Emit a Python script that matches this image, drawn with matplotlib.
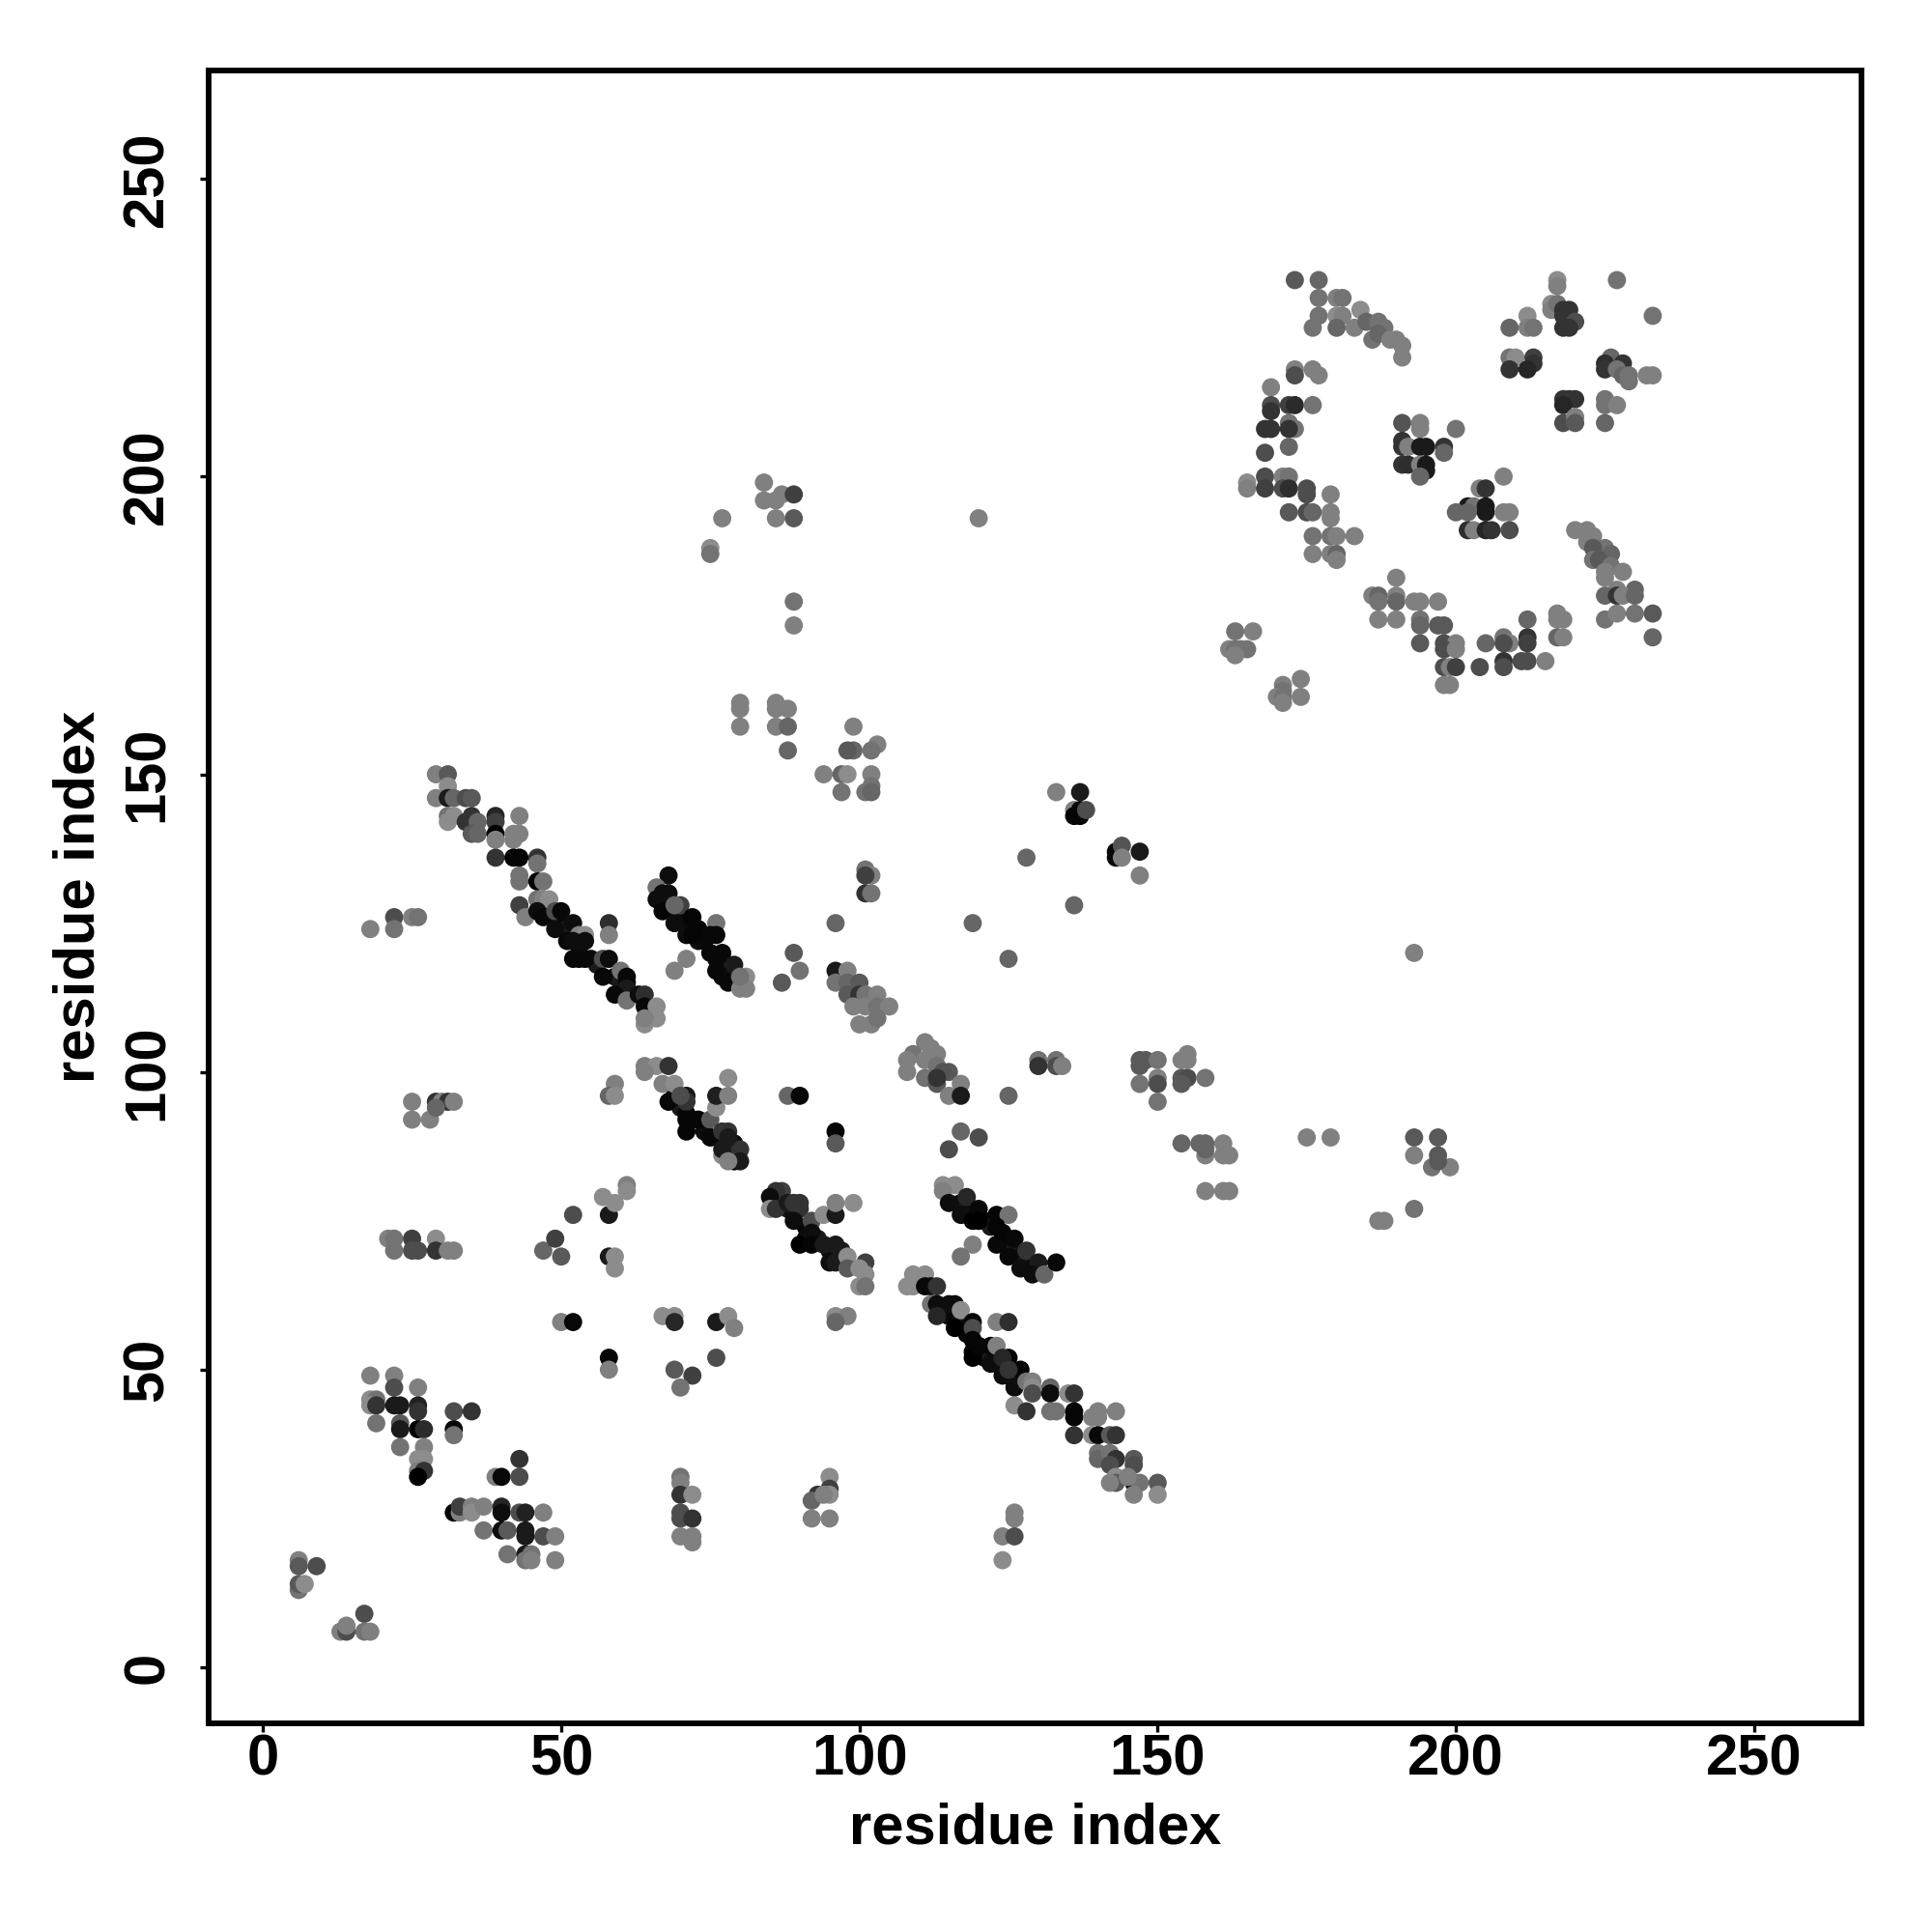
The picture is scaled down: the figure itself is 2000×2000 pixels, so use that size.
import numpy as np
import matplotlib
matplotlib.use("Agg")
import matplotlib.pyplot as plt

plt.rcParams['font.family'] = ['Liberation Sans', 'DejaVu Sans']

# ---- contact points: residue i, residue j, grey level, region by region ----
rib_x = [48,49,50,51,53,55,56,59,60,61,62,60, 68,69,70,71,73,74,77,78,76,77, 69,70,71,72,74,76,79,79,78, 87,88,89,91,91,93,95,97,97, 117,118,119,120,121,122,124,125,126,127,128,129,118, 114,115,116,117,118,118,120,121,122,123,124,125,126,127]
rib_y = [127,126,125,124,121,119,118,116,115,115,113,113, 129,127,126,125,122,122,119,117,119,116, 96,94,93,92,90,89,88,87,87, 79,77,76,74,72,72,70,69,70, 78,77,77,76,75,74,71,71,70,69,68,67,76, 60,59,59,58,57,56,53,52,52,51,50,49,48,48]
rib_g = [.05,.1,.03,.1,.05,.03,.1,.05,.1,.05,.1,.05, .05,.1,.05,.03,.05,.03,.05,.1,.03,.05, .05,.1,.03,.05,.05,.1,.05,.03,.1, .05,.1,.05,.03,.05,.1,.05,.03,.1, .05,.1,.03,.05,.03,.1,.05,.03,.1,.05,.1,.03,.05, .1,.05,.03,.1,.05,.03,.05,.03,.1,.05,.03,.1,.05,.1]

a_x = [6,6,9,6,6,7,17,13,14,14,17,18]
a_y = [18,17,17,13,14,14,9,6,6,7,6,6]
a_g = [.5,.35,.3,.45,.35,.55,.3,.5,.3,.5,.45,.5]

b_x = [18,22,22,26,18,19,18,19,22,23,26,26,32,35,19,23,23,26,27,32,32,23,27,26,27,26,27,26]
b_y = [49,49,47,47,45,45,44,44,44,44,44,43,43,43,41,41,40,40,40,40,39,37,37,35,35,33,33,32]
b_g = [.5,.5,.3,.5,.55,.45,.55,.2,.1,.1,.13,.2,.3,.2,.45,.35,.1,.0,.17,.03,.45,.45,.5,.55,.55,.5,.2,.0]

c_x = [39,40,43,43,32,33,33,35,35,37,40,40,43,44,47,37,40,41,44,44,47,49,41,44,45,44,45,49]
c_y = [32,32,32,35,26,26,27,27,26,27,27,26,26,26,26,23,23,23,23,22,22,22,19,19,19,18,18,18]
c_g = [.5,.03,.3,.2,.0,.5,.25,.5,.55,.5,.15,.05,.3,.13,.5,.45,.05,.35,.1,.1,.3,.5,.45,.1,.45,.45,.5,.5]

d_x = [21,22,25,29,22,25,26,29,31,32,47,50,49,52]
d_y = [72,72,72,72,70,70,70,70,70,70,70,69,72,76]
d_g = [.5,.45,.25,.55,.45,.3,.3,.2,.5,.5,.4,.35,.25,.3]

e_x = [58,57,59,61,61,58,59,59,50,52,58,58,67,69,69,76,78,79,76,69,72,70]
e_y = [76,79,78,81,80,69,69,67,58,58,52,50,59,59,58,58,59,57,52,50,49,47]
e_g = [.1,.55,.55,.5,.55,.1,.55,.55,.5,.03,.02,.5,.55,.55,.15,.1,.55,.5,.3,.35,.25,.45]

f_x = [70,70,70,72,70,70,72,70,72,72,95,95,95,93,92,94,92,95,126,126,124,126,124]
f_y = [32,31,29,29,26,25,25,22,22,21,32,30,29,29,28,29,25,25,26,25,22,22,18]
f_g = [.45,.5,.2,.55,.3,.3,.2,.5,.5,.5,.55,.25,.55,.2,.4,.5,.5,.5,.5,.5,.5,.3,.55]

g_x = [87,86,85,85,86,88,89,90,90,89,92,94,96,96,99,90,92,92,94,96,95,96,98,98,101,100,101,100,101,96,98,96]
g_y = [80,80,79,77,77,78,78,78,77,75,75,76,76,78,78,71,73,71,71,71,68,68,69,67,68,67,66,64,64,59,59,58]
g_g = [.25,.2,.05,.55,.2,.1,.2,.2,.2,.05,.3,.55,.1,.5,.55,.0,.05,.02,.1,.1,.05,.1,.55,.35,.25,.55,.55,.55,.45,.55,.5,.4]

h_x = [114,116,114,115,117,118,119,120,120,123,125,123,123,124,126,125,119,117,128,127,130,129,131,133]
h_y = [81,81,80,78,76,79,75,77,75,76,76,74,71,73,72,69,71,69,70,67,68,66,66,68]
h_g = [.55,.55,.5,.05,.05,.15,.0,.03,.0,.02,.45,.02,.03,.02,.03,.03,.5,.45,.2,.05,.1,.05,.4,.03]

i_x = [109,111,108,109,111,112,113,112,113,115,116,117,113,116,119,119,123,125,119,119,119,120,122,123,122,125,124,127,124,125,126,128,129,129,129,126,128]
i_y = [66,66,64,64,64,64,64,61,61,61,61,60,59,57,58,57,58,58,55,53,52,54,54,54,51,52,52,50,49,50,47,48,48,47,46,44,43]
i_g = [.55,.55,.55,.55,.03,.03,.2,.45,.05,.05,.05,.55,.15,.0,.02,.3,.5,.18,.02,.02,.0,.02,.02,.5,.05,.02,.15,.02,.05,.2,.05,.45,.5,.55,.3,.55,.2]

j_x = [132,132,135,136,132,133,136,136,136,140,143,139,140,139,140,142,143,140,140,142,143,142,146,146,143,143,142,146,147,146,150,150,145]
j_y = [47,46,46,46,43,43,43,42,39,43,43,42,42,39,39,39,39,36,35,36,35,34,35,34,32,31,31,31,31,29,31,29,32]
j_g = [.4,.05,.55,.2,.45,.45,.02,.02,.2,.5,.5,.5,.5,.55,.03,.35,.2,.45,.4,.45,.2,.3,.35,.3,.55,.35,.5,.05,.45,.5,.35,.55,.5]

k_x = [29,31,31,29,31,32,34,35,31,31,32,34,35,36,35,36,39,39,39,39,43,42,43,42]
k_y = [150,150,148,146,146,146,146,146,143,142,143,142,143,142,140,140,143,142,140,139,143,140,140,139]
k_g = [.5,.35,.55,.5,.1,.4,.3,.35,.45,.55,.55,.2,.2,.4,.35,.4,.15,.25,.0,.5,.5,.5,.5,.5]

l_x = [39,42,43,46,46,43,43,46,47,43,44,46,47,48,46,47,49,50,49,52,53,54,51,52,54,52,53,54,57,58,58,58]
l_y = [136,136,136,136,135,133,132,132,132,128,126,129,129,129,127,126,127,127,124,125,123,123,122,122,122,119,119,119,119,119,125,123]
l_g = [.2,.02,.02,.2,.45,.45,.45,.02,.45,.25,.5,.45,.5,.55,.05,.03,.3,.03,.05,.05,.5,.55,.03,.05,.05,.03,.03,.03,.3,.05,.18,.5]

m_x = [57,60,61,61,59,61,63,64,64,66,66,64,64,18,22,22,25,26,25,29,30,31,32,25,28,29]
m_y = [116,117,116,114,113,112,113,113,111,111,109,108,109,124,126,124,126,126,95,95,95,95,95,92,92,94]
m_g = [.03,.45,.03,.1,.03,.45,.05,.18,.03,.55,.55,.55,.5,.5,.3,.45,.5,.45,.5,.2,.5,.2,.5,.5,.5,.4]

n_x = [68,66,66,67,68,67,70,69,69,72,71,72,73,76,76,75,75,77,76,79,78,81,81,80,80,71,69,89,90,87]
n_y = [133,131,129,130,130,127,128,125,128,126,123,123,124,125,123,123,120,120,117,118,115,116,114,114,116,119,117,120,117,115]
n_g = [.05,.45,.05,.05,.05,.02,.25,.05,.4,.02,.05,.02,.02,.45,.03,.03,.03,.03,.03,.1,.03,.55,.5,.5,.45,.5,.5,.35,.45,.35]

o_x = [64,66,68,64,67,69,68,71,71,70,71,73,71,75,76,76,78,78,75,77,78,77,77,79,80,80,78,78,59,58,59,88,90]
o_y = [101,101,101,100,98,98,95,96,95,96,92,92,90,92,94,96,96,99,89,90,90,86,87,85,87,85,89,85,98,96,96,96,96]
o_g = [.5,.55,.2,.5,.5,.55,.03,.1,.2,.3,.02,.02,.02,.35,.55,.12,.5,.55,.03,.2,.2,.55,.1,.0,.2,.1,.1,.5,.5,.4,.55,.4,.03]

p_x = [94,97,98,102,97,101,102,102,99,99,98,103,102,101,102,101,101,102,96,119,136,125,128]
p_y = [150,150,150,150,147,147,148,147,158,154,154,155,154,134,133,133,130,130,125,125,128,119,136]
p_g = [.5,.4,.55,.5,.45,.45,.45,.4,.5,.4,.35,.5,.45,.45,.5,.25,.2,.45,.4,.4,.4,.4,.4]

q_x = [133,137,136,137,136,137,138,143,143,144,144,147,147]
q_y = [147,147,144,144,143,143,144,137,136,138,136,137,133]
q_g = [.5,.1,.5,.03,.02,.02,.3,.03,.03,.33,.5,.1,.5]

r_x = [96,98,96,98,100,98,100,101,103,99,101,103,105,100,102,103]
r_y = [117,117,115,115,115,113,113,113,113,111,111,111,111,108,108,109]
r_g = [.1,.5,.45,.4,.35,.35,.2,.45,.5,.5,.5,.45,.5,.5,.5,.45]

s_x = [111,112,109,113,108,111,113,108,111,113,115,114,113,117,115,117,125,96,96,117,120,115]
s_y = [105,104,103,103,102,102,101,100,99,98,100,100,99,98,96,96,96,90,88,90,89,87]
s_g = [.5,.5,.45,.5,.5,.5,.45,.5,.45,.35,.35,.33,.2,.5,.5,.1,.4,.02,.35,.4,.3,.3]

t_x = [130,130,133,133,134,147,148,150,147,147,150,150,150,155,154,155,154,155,154,158]
t_y = [102,101,102,101,101,102,102,102,101,98,99,98,95,103,102,102,99,99,98,99]
t_g = [.45,.2,.45,.3,.5,.35,.35,.45,.35,.45,.5,.3,.45,.5,.5,.5,.35,.3,.35,.45]

u_x = [154,157,158,158,161,161,162,158,158,161,162,175,179,193,193,197,193,197,196,199,197,187,188,193,120]
u_y = [88,88,88,86,88,86,86,87,80,80,80,89,89,120,89,89,86,86,84,84,85,75,75,77,193]
u_g = [.4,.4,.4,.5,.5,.5,.5,.4,.5,.5,.5,.5,.5,.5,.35,.35,.5,.35,.45,.5,.35,.5,.5,.45,.5]

v_x = [75,75,77,84,84,86,86,87,89,89,89,89,80,80,80,86,86,88,86,88,88]
v_y = [188,187,193,199,196,196,193,197,197,193,179,175,162,161,158,162,161,161,158,158,154]
v_g = [.55,.45,.5,.5,.5,.5,.5,.5,.25,.35,.45,.5,.5,.5,.5,.5,.5,.5,.5,.4,.4]

w_x = [173,177,177,180,181,177,180,181,176,180,183,184,185,187,188,186,187,189,190,191,191]
w_y = [233,233,230,230,230,227,227,227,225,225,225,228,226,226,225,223,224,223,223,222,220]
w_g = [.35,.4,.45,.5,.45,.45,.55,.5,.45,.4,.5,.55,.4,.45,.45,.45,.4,.5,.5,.5,.5]

x_x = [217,217,227,233,216,216,217,218,219,218,220,218,219,212,209,212,213]
x_y = [233,232,233,227,229,228,229,228,228,227,226,225,225,227,225,225,225]
x_g = [.55,.5,.45,.45,.55,.5,.45,.2,.2,.2,.3,.2,.2,.55,.4,.5,.45]

y_x = [209,210,213,213,209,212,226,225,225,228,227,228,229,229,232,233,218,219,220,218,225,225,227,218,220,220,225]
y_y = [220,220,220,219,218,218,220,219,218,219,218,217,217,216,217,217,213,213,213,212,213,212,212,209,210,209,209]
y_g = [.45,.55,.25,.2,.2,.15,.4,.18,.2,.2,.45,.4,.45,.45,.5,.5,.2,.2,.2,.15,.45,.45,.5,.3,.5,.35,.4]

z_x = [173,173,176,177,169,169,169,172,173,176,168,169,172,173,172,172,168]
z_y = [218,217,218,217,215,212,211,212,212,212,208,208,209,208,208,205,204]
z_g = [.5,.3,.5,.5,.5,.3,.2,.25,.17,.45,.2,.2,.45,.45,.2,.4,.3]

aa_x = [165,165,168,168,171,172,171,172,175,175,179,172,175,176,179,179,176,179,180,183,176,179,180,180]
aa_y = [199,198,200,198,200,200,198,198,198,197,197,194,194,194,194,193,190,190,190,190,187,187,187,186]
aa_g = [.55,.5,.3,.25,.5,.45,.3,.18,.3,.3,.5,.35,.3,.4,.5,.5,.45,.45,.5,.5,.5,.5,.4,.5]

ab_x = [191,194,194,200,191,191,192,194,195,198,198,191,192,194,195,195,194]
ab_y = [209,209,208,208,206,205,205,205,205,205,204,202,202,202,202,201,200]
ab_g = [.33,.5,.5,.45,.2,.2,.5,.1,.1,.2,.4,.2,.18,.5,.1,.1,.4]

ac_x = [208,204,205,202,200,203,205,205,202,208,209,202,203,205,206,209]
ac_y = [200,198,198,195,194,195,195,194,194,194,194,191,191,191,191,191]
ac_g = [.5,.5,.2,.1,.4,.45,.1,.1,.4,.5,.5,.18,.5,.15,.2,.3]

ad_x = [220,222,223,222,225,223,226,223,224,226,228,225,225,227,230,225,227,228,230,225,227,230,233,233]
ad_y = [191,191,190,189,188,188,187,186,186,185,184,184,183,181,181,180,180,180,180,176,177,177,177,173]
ad_g = [.5,.5,.5,.5,.45,.35,.4,.45,.35,.45,.5,.5,.5,.5,.4,.4,.2,.5,.4,.45,.5,.45,.35,.4]

ae_x = [190,186,187,187,190,190,193,194,197,187,190,194,194,197,198,194]
ae_y = [183,180,180,179,180,179,179,179,179,176,176,176,175,175,175,172]
ae_g = [.5,.5,.4,.45,.5,.4,.5,.5,.5,.5,.5,.45,.4,.35,.35,.35]

af_x = [198,200,198,200,198,199,200,204,198,199,205,208,209,208,212,212,212,208,208,211,212,215,217,218,217,217,218]
af_y = [172,172,171,171,168,168,168,168,165,165,172,173,172,172,176,173,172,169,168,169,169,169,177,176,176,173,173]
af_g = [.3,.5,.3,.5,.3,.5,.25,.3,.5,.5,.4,.45,.5,.3,.4,.2,.25,.2,.3,.3,.3,.5,.5,.5,.5,.4,.5]

ag_x = [163,166,162,163,164,165,163,174,171,171,170,171,171,174]
ag_y = [174,174,171,171,171,171,170,166,165,164,163,163,162,163]
ag_g = [.45,.5,.5,.45,.45,.45,.5,.5,.5,.45,.5,.45,.5,.5]

tick_values = [0, 50, 100, 150, 200, 250]
axis_label = "residue index"

all_x = [rib_x,a_x,b_x,c_x,d_x,e_x,f_x,g_x,h_x,i_x,j_x,k_x,l_x,m_x,n_x,o_x,p_x,q_x,r_x,s_x,t_x,u_x,v_x,w_x,x_x,y_x,z_x,aa_x,ab_x,ac_x,ad_x,ae_x,af_x,ag_x]
all_y = [rib_y,a_y,b_y,c_y,d_y,e_y,f_y,g_y,h_y,i_y,j_y,k_y,l_y,m_y,n_y,o_y,p_y,q_y,r_y,s_y,t_y,u_y,v_y,w_y,x_y,y_y,z_y,aa_y,ab_y,ac_y,ad_y,ae_y,af_y,ag_y]
all_g = [rib_g,a_g,b_g,c_g,d_g,e_g,f_g,g_g,h_g,i_g,j_g,k_g,l_g,m_g,n_g,o_g,p_g,q_g,r_g,s_g,t_g,u_g,v_g,w_g,x_g,y_g,z_g,aa_g,ab_g,ac_g,ad_g,ae_g,af_g,ag_g]
for p, q, r in zip(all_x, all_y, all_g):
    if not (len(p) == len(q) == len(r)):
        m_ = min(len(p), len(q), len(r))
        del p[m_:], q[m_:], r[m_:]

xs = np.concatenate(all_x).astype(float)
ys = np.concatenate(all_y).astype(float)
gs = np.concatenate(all_g).astype(float)

fig = plt.figure(figsize=(10, 10), dpi=200)
ax = fig.add_axes([216/2000, 1-1784/2000, 1711/2000, 1711/2000])
ax.scatter(xs, ys, s=46, c=np.column_stack([gs, gs, gs]), linewidths=0, zorder=3)
ax.set_xlim(-9.1, 268.0)
ax.set_ylim(-9.4, 268.2)
ax.set_xticks(tick_values)
ax.set_yticks(tick_values)
for s in ax.spines.values():
    s.set_linewidth(2.1)
ax.tick_params(axis='both', length=3.1, width=1.2, labelsize=21.5)
ax.tick_params(axis='x', pad=0.6)
ax.tick_params(axis='y', pad=9.6)
for t in ax.get_xticklabels() + ax.get_yticklabels():
    t.set_fontweight('bold')
for t in ax.get_yticklabels():
    t.set_rotation(90)
    t.set_va('center')
ax.set_xlabel(axis_label, fontsize=21.5, fontweight='bold', labelpad=5.9)
ax.set_ylabel(axis_label, fontsize=21.5, fontweight='bold', labelpad=5.7)
fig.savefig("out.png", dpi=200, facecolor='white')
